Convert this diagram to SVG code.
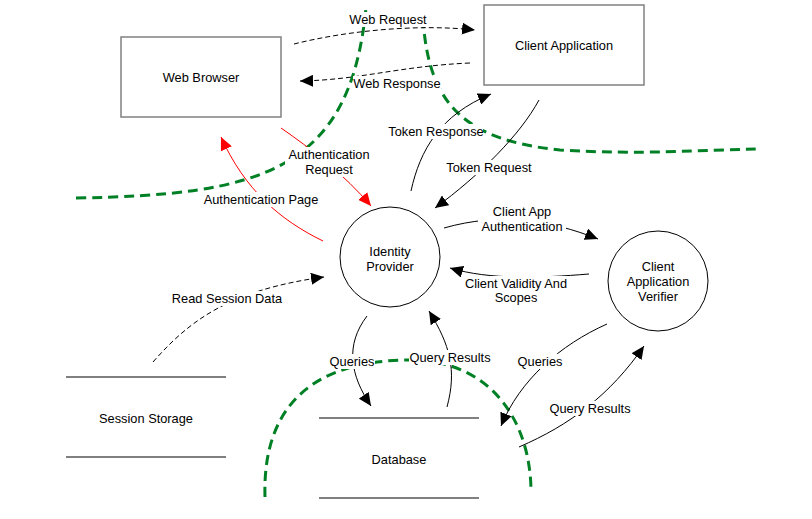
<svg xmlns="http://www.w3.org/2000/svg" width="812" height="519" viewBox="0 0 812 519">
<defs>
<marker id="ah" markerUnits="userSpaceOnUse" markerWidth="14" markerHeight="12" refX="13" refY="6" orient="auto"><path d="M0,0 L13,6 L0,12 z" fill="#000"/></marker>
<marker id="ahr" markerUnits="userSpaceOnUse" markerWidth="14" markerHeight="12" refX="13" refY="6" orient="auto"><path d="M0,0 L13,6 L0,12 z" fill="#ff0000"/></marker>
<style>
text{font-family:"Liberation Sans",Arial,sans-serif;font-size:12.8px;fill:#000;text-anchor:middle}
.proc{fill:#fff;stroke:#000;stroke-width:1}
.ext{fill:#fff;stroke:#808080;stroke-width:1.5}
.store{stroke:#808080;stroke-width:2}
.bnd{fill:none;stroke:#008025;stroke-width:3;stroke-dasharray:10,6}
.flow{fill:none;stroke:#000;stroke-width:1;marker-end:url(#ah)}
.dash{stroke-dasharray:5,3}
.red{stroke:#ff0000;marker-end:url(#ahr)}
.lbg{fill:#fff}
</style>
</defs>
<rect width="812" height="519" fill="#fff"/>
<g id="boundaries">
<path class="bnd" d="M76,198 C260,195 350,172 366,8"/>
<path class="bnd" d="M423,18 C428,100 460,140 560,150 C640,155 700,150 756,149"/>
<path class="bnd" d="M265,497 C262,400 320,360 410,360 C490,360 530,420 531,490"/>
</g>
<g id="web-browser"><rect class="ext" x="121" y="37" width="160" height="80"/><text x="201" y="81.5">Web Browser</text></g>
<g id="client-application"><rect class="ext" x="484" y="5" width="160" height="80"/><text x="564" y="49.5">Client Application</text></g>
<g id="identity-provider"><circle class="proc" cx="390" cy="257" r="50"/><text x="390" y="256">Identity</text><text x="390" y="270.8">Provider</text></g>
<g id="client-application-verifier"><circle class="proc" cx="658" cy="281" r="50"/><text x="658" y="271">Client</text><text x="658" y="285.8">Application</text><text x="658" y="300.6">Verifier</text></g>
<g id="session-storage"><line class="store" x1="66" y1="377" x2="226" y2="377"/><line class="store" x1="66" y1="457" x2="226" y2="457"/><text x="146" y="422.5">Session Storage</text></g>
<g id="database"><line class="store" x1="319" y1="418" x2="479" y2="418"/><line class="store" x1="319" y1="498" x2="479" y2="498"/><text x="399" y="463.5">Database</text></g>
<g id="connectors">
<path class="flow dash" d="M294,44 C350,30 420,24 475,30"/>
<path class="flow dash" d="M470,63 C400,66 360,80 300,81"/>
<path class="flow" d="M411,191 C420,150 440,115 491,94"/>
<path class="flow" d="M539,100 C520,135 480,175 435,208"/>
<path class="flow red" d="M281,128 C310,148 345,175 371,206"/>
<path class="flow red" d="M323,241 C280,220 245,190 221,137"/>
<path class="flow" d="M444,228 C500,212 550,220 598,239"/>
<path class="flow" d="M589,274 C540,278 490,280 450,268"/>
<path class="flow dash" d="M153,362 C190,320 230,290 324,277"/>
<path class="flow" d="M367,316 C345,345 350,375 371,406"/>
<path class="flow" d="M447,407 C457,370 450,345 429,311"/>
<path class="flow" d="M607,324 C560,345 520,380 501,426"/>
<path class="flow" d="M519,447 C570,425 610,395 644,346"/>
</g>
<g id="labels">
<rect class="lbg" x="349" y="12" width="78" height="15"/><text x="388" y="23.5">Web Request</text>
<rect class="lbg" x="353" y="76" width="88" height="15"/><text x="397" y="87.5">Web Response</text>
<rect class="lbg" x="389" y="124" width="94" height="15"/><text x="436" y="135.5">Token Response</text>
<rect class="lbg" x="285" y="147" width="88" height="30"/><text x="329" y="159">Authentication</text><text x="329" y="173.8">Request</text>
<rect class="lbg" x="445" y="160" width="88" height="15"/><text x="489" y="171.5">Token Request</text>
<rect class="lbg" x="202" y="192" width="118" height="15"/><text x="261" y="203.5">Authentication Page</text>
<rect class="lbg" x="478" y="204" width="88" height="30"/><text x="522" y="216">Client App</text><text x="522" y="230.8">Authentication</text>
<rect class="lbg" x="462" y="276" width="108" height="30"/><text x="516" y="287.5">Client Validity And</text><text x="516" y="302.3">Scopes</text>
<rect class="lbg" x="173" y="291" width="108" height="15"/><text x="227" y="302.5">Read Session Data</text>
<rect class="lbg" x="329" y="354" width="46" height="15"/><text x="352" y="365.5">Queries</text>
<rect class="lbg" x="409" y="350" width="82" height="15"/><text x="450" y="361.5">Query Results</text>
<rect class="lbg" x="517" y="354" width="46" height="15"/><text x="540" y="365.5">Queries</text>
<rect class="lbg" x="549" y="401" width="82" height="15"/><text x="590" y="412.5">Query Results</text>
</g>
</svg>
